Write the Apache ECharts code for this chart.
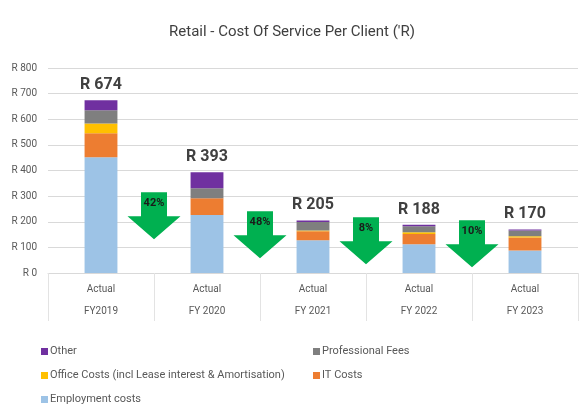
<!DOCTYPE html>
<html>
<head>
<meta charset="utf-8">
<script src="https://cdn.jsdelivr.net/npm/echarts@6/dist/echarts.min.js"></script>
<style>
  html, body { margin: 0; padding: 0; background: #ffffff; }
  #chart { width: 584px; height: 416px; }
</style>
</head>
<body>
<div id="chart"></div>
<script>
// Cost of service per client, by year and cost component (Rand)
const categories = ['FY2019', 'FY 2020', 'FY 2021', 'FY 2022', 'FY 2023'];
const scenario = ['Actual', 'Actual', 'Actual', 'Actual', 'Actual'];

const employmentCosts = [452, 226, 128, 112, 88];
const itCosts         = [93, 66, 35, 40, 51];
const officeCosts     = [38, 0, 3, 7, 4];
const professionalFees = [52, 39, 33, 23, 23];
const otherCosts      = [39, 62, 6, 6, 4];

// Year-on-year decrease markers, placed between consecutive years
const dropLabels = ['42%', '48%', '8%', '10%'];
const dropArrowTop = [315, 241, 218, 206];

const yTicks = [0, 100, 200, 300, 400, 500, 600, 700, 800];

const totals = categories.map((_, i) =>
  employmentCosts[i] + itCosts[i] + officeCosts[i] + professionalFees[i] + otherCosts[i]);

const FONT = 'Roboto, "Noto Sans", sans-serif';
const TEXT = '#595959';

const colors = {
  other: '#7030A0',
  prof: '#7F7F7F',
  office: '#FFC000',
  it: '#ED7D31',
  emp: '#9DC3E6'
};

function stackBar(name, data, color, extra) {
  return Object.assign({
    name: name,
    type: 'bar',
    stack: 'cost',
    barWidth: '31%',
    data: data,
    itemStyle: { color: color },
    emphasis: { disabled: true }
  }, extra || {});
}

const legendBase = {
  orient: 'vertical',
  top: 341,
  itemWidth: 7,
  itemHeight: 7,
  itemGap: 13,
  icon: 'rect',
  selectedMode: false,
  textStyle: { fontFamily: FONT, fontSize: 11, color: TEXT, padding: [0, 0, 0, -3] }
};

const chart = echarts.init(document.getElementById('chart'), null, { renderer: 'canvas' });

chart.setOption({
  animation: false,
  backgroundColor: '#ffffff',
  textStyle: { fontFamily: FONT },
  title: {
    text: "Retail - Cost Of Service Per Client ('R)",
    left: 'center',
    top: 20,
    textStyle: { fontFamily: FONT, fontSize: 15, fontWeight: 'normal', color: '#404040' }
  },
  grid: { left: 48, right: 6, top: 68, bottom: 143 },
  legend: [
    Object.assign({
      data: ['Other', 'Office Costs (incl Lease interest & Amortisation)', 'Employment costs'],
      left: 36
    }, legendBase),
    Object.assign({
      data: ['Professional Fees', 'IT Costs'],
      left: 308
    }, legendBase)
  ],
  xAxis: {
    type: 'category',
    data: categories,
    axisLine: { show: true, lineStyle: { color: '#D9D9D9' } },
    axisTick: { show: true, interval: 0, length: 48, lineStyle: { color: '#E3E3E3' } },
    axisLabel: {
      interval: 0,
      margin: 5,
      color: TEXT,
      fontSize: 10,
      lineHeight: 22,
      fontFamily: FONT,
      formatter: (v, i) => scenario[i] + '\n' + v
    }
  },
  yAxis: {
    type: 'value',
    min: yTicks[0],
    max: yTicks[yTicks.length - 1],
    interval: yTicks[1] - yTicks[0],
    axisLine: { show: false },
    axisTick: { show: false },
    splitLine: { lineStyle: { color: '#D9D9D9' } },
    axisLabel: {
      color: TEXT,
      fontSize: 10,
      fontFamily: FONT,
      margin: 11,
      formatter: v => 'R ' + v
    }
  },
  series: [
    stackBar('Employment costs', employmentCosts, colors.emp),
    stackBar('IT Costs', itCosts, colors.it),
    stackBar('Office Costs (incl Lease interest & Amortisation)', officeCosts, colors.office),
    stackBar('Professional Fees', professionalFees, colors.prof),
    stackBar('Other', otherCosts, colors.other, {
      label: {
        show: true,
        position: 'top',
        distance: 7,
        fontFamily: FONT,
        fontSize: 16,
        fontWeight: 'bold',
        color: '#404040',
        formatter: p => 'R ' + totals[p.dataIndex]
      }
    }),
    {
      name: 'drop',
      type: 'custom',
      silent: true,
      z: 5,
      data: dropLabels.map((t, i) => [i, dropArrowTop[i], t]),
      renderItem: function (params, api) {
        const pt = api.coord([api.value(0), api.value(1)]);
        const band = api.size([1, 0])[0];
        const cx = pt[0] + band / 2;
        const top = pt[1];
        const shaftHalf = 13;
        const headHalf = 26.5;
        const shaftH = 24;
        const headH = 23;
        return {
          type: 'group',
          children: [
            {
              type: 'polygon',
              shape: {
                points: [
                  [cx - shaftHalf, top],
                  [cx + shaftHalf, top],
                  [cx + shaftHalf, top + shaftH],
                  [cx + headHalf, top + shaftH],
                  [cx, top + shaftH + headH],
                  [cx - headHalf, top + shaftH],
                  [cx - shaftHalf, top + shaftH]
                ]
              },
              style: { fill: '#00B050' }
            },
            {
              type: 'text',
              x: cx,
              y: top + 11,
              style: {
                text: dropLabels[params.dataIndex],
                align: 'center',
                verticalAlign: 'middle',
                fontFamily: FONT,
                fontSize: 11,
                fontWeight: 'bold',
                fill: '#1a1a1a'
              }
            }
          ]
        };
      }
    }
  ]
});
</script>
</body>
</html>
